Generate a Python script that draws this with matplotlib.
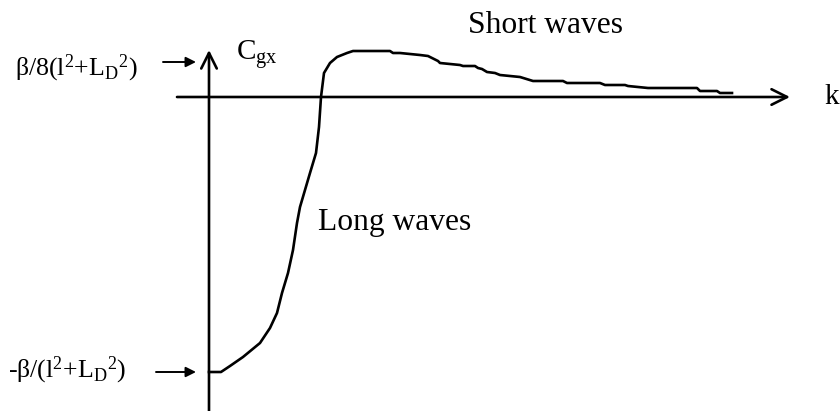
import numpy as np
import matplotlib.pyplot as plt

plt.rcParams['font.family'] = ['Liberation Serif', 'DejaVu Serif']
plt.rcParams['mathtext.fontset'] = 'custom'
plt.rcParams['mathtext.rm'] = 'Liberation Serif'
plt.rcParams['mathtext.it'] = 'Liberation Serif'
plt.rcParams['mathtext.bf'] = 'Liberation Serif'

# group velocity sketch: wavenumber k vs C_gx (arbitrary units)
k = [0.00, 0.12, 0.21, 0.34, 0.51, 0.61, 0.68, 0.73, 0.79, 0.84, 0.88,
     0.91, 0.96, 1.01, 1.07, 1.10, 1.12, 1.15, 1.21, 1.28, 1.38, 1.44,
     1.81, 1.84, 1.91, 2.11, 2.19, 2.29, 2.31, 2.51, 2.54, 2.66, 2.69,
     2.73, 2.78, 2.86, 2.91, 3.11, 3.24, 3.54, 3.58, 3.91, 3.96, 4.16,
     4.19, 4.39, 4.88, 4.91, 5.08, 5.11, 5.23]
cgx = [-2.75, -2.75, -2.69, -2.60, -2.46, -2.31, -2.16, -1.96, -1.76,
       -1.53, -1.26, -1.10, -0.93, -0.76, -0.56, -0.30, 0.00, 0.24, 0.34,
       0.40, 0.44, 0.46, 0.46, 0.44, 0.44, 0.42, 0.41, 0.36, 0.34, 0.32,
       0.31, 0.31, 0.29, 0.28, 0.25, 0.24, 0.22, 0.20, 0.16, 0.16, 0.14,
       0.14, 0.12, 0.12, 0.11, 0.09, 0.09, 0.06, 0.06, 0.04, 0.04]

cmax = 0.35   # level marked on the left as beta/8(...)
cmin = -2.75  # level marked on the left as -beta/(...)

fig = plt.figure(figsize=(8.4, 4.11), dpi=100)
ax = fig.add_axes([0, 0, 1, 1])
ax.set_xlim(-2.09, 6.31)
ax.set_ylim(-3.14, 0.97)
ax.axis('off')

lw = 1.9
# axes with open arrow heads
ax.annotate('', xy=(5.81, 0), xytext=(-0.32, 0),
            arrowprops=dict(arrowstyle='->', lw=lw, color='black',
                            mutation_scale=28, shrinkA=0, shrinkB=0))
ax.annotate('', xy=(0, 0.47), xytext=(0, -3.2),
            arrowprops=dict(arrowstyle='->', lw=lw, color='black',
                            mutation_scale=28, shrinkA=0, shrinkB=0))

ax.plot(k, cgx, color='black', lw=lw, solid_joinstyle='round')

# level markers
for lvl, x0 in [(cmax, -0.46), (cmin, -0.53)]:
    ax.annotate('', xy=(-0.13, lvl), xytext=(x0, lvl),
                arrowprops=dict(arrowstyle='-|>', lw=1.4, color='black',
                                mutation_scale=15, shrinkA=0, shrinkB=0))

fs = 22.7
ffs = 18.6
ax.text(-1.94, 0.29, r'$β/8(\mathrm{l}^2\text{+}\mathrm{L}_\mathrm{D}{}^2)$',
        fontsize=ffs, va='center', ha='left')
ax.text(-2.01, -2.73, r'$\text{-}β/(\mathrm{l}^2\text{+}\mathrm{L}_\mathrm{D}{}^2)$',
        fontsize=ffs, va='center', ha='left')
ax.text(0.27, 0.37, r'$C_{gx}$', fontsize=21, va='baseline', ha='left')
ax.text(2.59, 0.64, 'Short waves', fontsize=fs, va='baseline', ha='left')
ax.text(1.09, -1.33, 'Long waves', fontsize=fs, va='baseline', ha='left')
ax.text(6.15, -0.07, 'k', fontsize=21, va='baseline', ha='left')

fig.savefig('out.png', dpi=100)
